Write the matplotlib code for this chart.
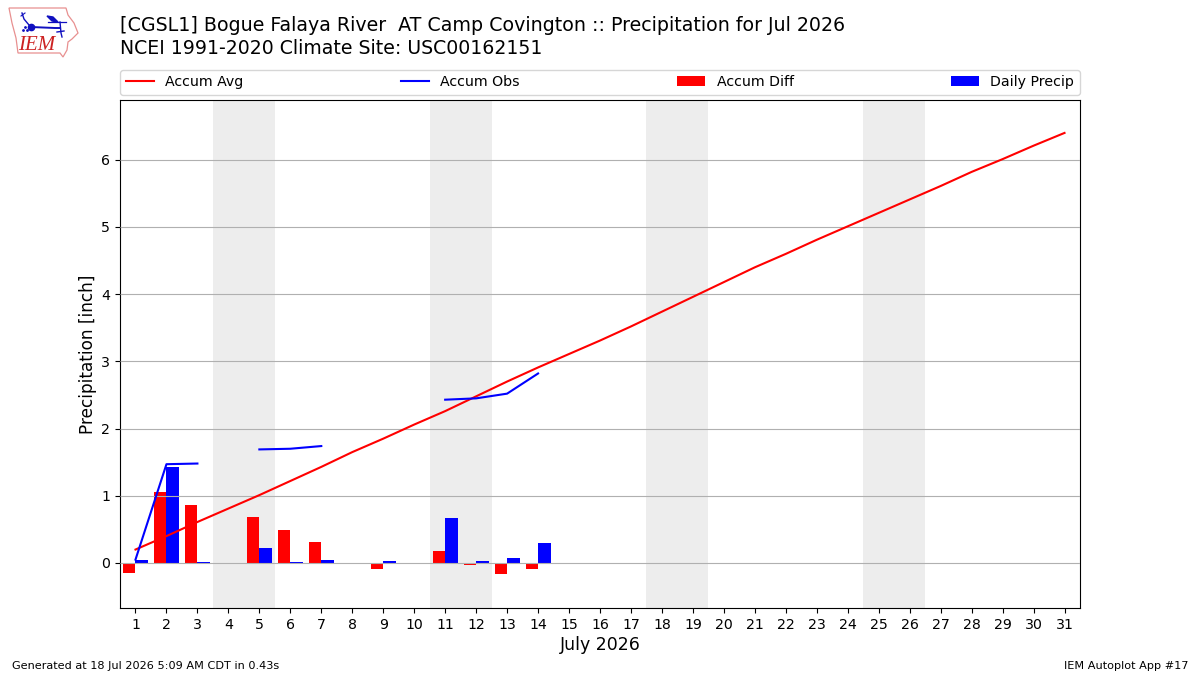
import numpy as np
import matplotlib
matplotlib.use("Agg")
import matplotlib.pyplot as plt
from matplotlib.patches import Polygon

nan = np.nan

days = list(range(1, 32))
accum_avg = [0.20, 0.40, 0.61, 0.81, 1.01, 1.22, 1.43, 1.65, 1.85, 2.06,
             2.26, 2.48, 2.70, 2.91, 3.11, 3.31, 3.52, 3.74, 3.96, 4.18,
             4.40, 4.60, 4.81, 5.01, 5.21, 5.41, 5.61, 5.82, 6.01, 6.21, 6.40]
accum_obs = [0.05, 1.47, 1.48, nan, 1.69, 1.70, 1.74, nan, nan, nan,
             2.43, 2.45, 2.52, 2.82]
accum_diff = [-0.15, 1.06, 0.87, nan, 0.68, 0.49, 0.31, nan, -0.09, nan,
              0.18, -0.03, -0.17, -0.09]
daily_precip = [0.05, 1.43, 0.02, nan, 0.22, 0.02, 0.05, nan, 0.03, nan,
                0.67, 0.03, 0.08, 0.30]
weekends = [(3.5, 5.5), (10.5, 12.5), (17.5, 19.5), (24.5, 26.5)]

obs_days = days[:len(accum_obs)]

fig = plt.figure(figsize=(12, 6.75), dpi=100)
ax = fig.add_axes([120 / 1200, 1 - 608 / 675, 960 / 1200, 508 / 675])

for start, end in weekends:
    ax.axvspan(start, end, color="#ededed", lw=0, zorder=1)

ax.bar(np.array(obs_days) - 0.4, accum_diff, width=0.4, align="edge",
       color="r", label="Accum Diff", zorder=2)
ax.bar(obs_days, daily_precip, width=0.42, align="edge",
       color="b", label="Daily Precip", zorder=2)
ax.plot(days, accum_avg, color="r", lw=1.5, label="Accum Avg", zorder=3)
ax.plot(obs_days, accum_obs, color="b", lw=1.5, label="Accum Obs", zorder=3)

ax.set_xlim(0.5, 31.5)
ax.set_ylim(-0.67, 6.89)
ax.set_xticks(days)
ax.set_yticks(range(7))
ax.tick_params(labelsize=10.2)
ax.grid(axis="y", color="#b0b0b0", lw=0.8)
ax.set_axisbelow(False)
for art in ax.get_ygridlines():
    art.set_zorder(1.5)
ax.set_xlabel("July 2026", fontsize=12.5, labelpad=3)
ax.set_ylabel("Precipitation [inch]", fontsize=12.2, labelpad=3)

handles, labels = ax.get_legend_handles_labels()
order = [labels.index(n) for n in ("Accum Avg", "Accum Obs", "Accum Diff", "Daily Precip")]
ax.legend([handles[i] for i in order], [labels[i] for i in order],
          ncol=4, mode="expand", loc="lower left",
          bbox_to_anchor=(0, 1 + 5 / 508, 1, 26 / 508), borderaxespad=0, fontsize=10.2)

fig.text(120 / 1200, 1 - 31 / 675, "[CGSL1] Bogue Falaya River  AT Camp Covington :: Precipitation for Jul 2026",
         fontsize=13.65, va="baseline")
fig.text(120 / 1200, 1 - 54 / 675, "NCEI 1991-2020 Climate Site: USC00162151",
         fontsize=13.6, va="baseline")
fig.text(12 / 1200, 1 - 669 / 675, "Generated at 18 Jul 2026 5:09 AM CDT in 0.43s", fontsize=8.1, va="baseline")
fig.text(1188 / 1200, 1 - 669 / 675, "IEM Autoplot App #17", fontsize=8.1, ha="right", va="baseline")

# small state-outline logo, in pixel coordinates
logo = fig.add_axes([0, 1 - 65 / 675, 90 / 1200, 65 / 675])
logo.set_xlim(0, 90)
logo.set_ylim(65, 0)
logo.axis("off")
outline = [(9, 8), (66, 8), (68, 15), (74, 23), (78, 33), (72, 39), (68, 42), (67, 50),
           (63, 57), (60, 53), (18, 53), (16, 38), (12, 23)]
logo.add_patch(Polygon(outline, closed=True, fill=False, ec="#e89090", lw=0.9))
blue = "#1010c0"
logo.plot([31, 55, 60], [27, 28, 28], color=blue, lw=1.4)
logo.plot([22, 24, 29], [13, 19, 25], color=blue, lw=1)
logo.plot([21, 25], [16, 13], color=blue, lw=0.8)
logo.plot([31], [27], "o", color=blue, ms=4.5)
logo.plot([23, 25, 27], [30, 27, 30], ls="none", marker=".", color=blue, ms=2)
logo.add_patch(Polygon([(47, 16), (53, 17), (58, 22), (52, 21)], color=blue))
logo.plot([48, 66], [22, 22], color=blue, lw=0.9)
logo.plot([60, 61, 62], [22, 33, 37], color=blue, lw=1)
logo.plot([57, 64], [32, 31], color=blue, lw=1)
logo.text(37, 45, "IEM", family="Liberation Serif", style="italic", color="#cc2222",
          fontsize=15, ha="center", va="center")

fig.savefig("out.png", dpi=100)
